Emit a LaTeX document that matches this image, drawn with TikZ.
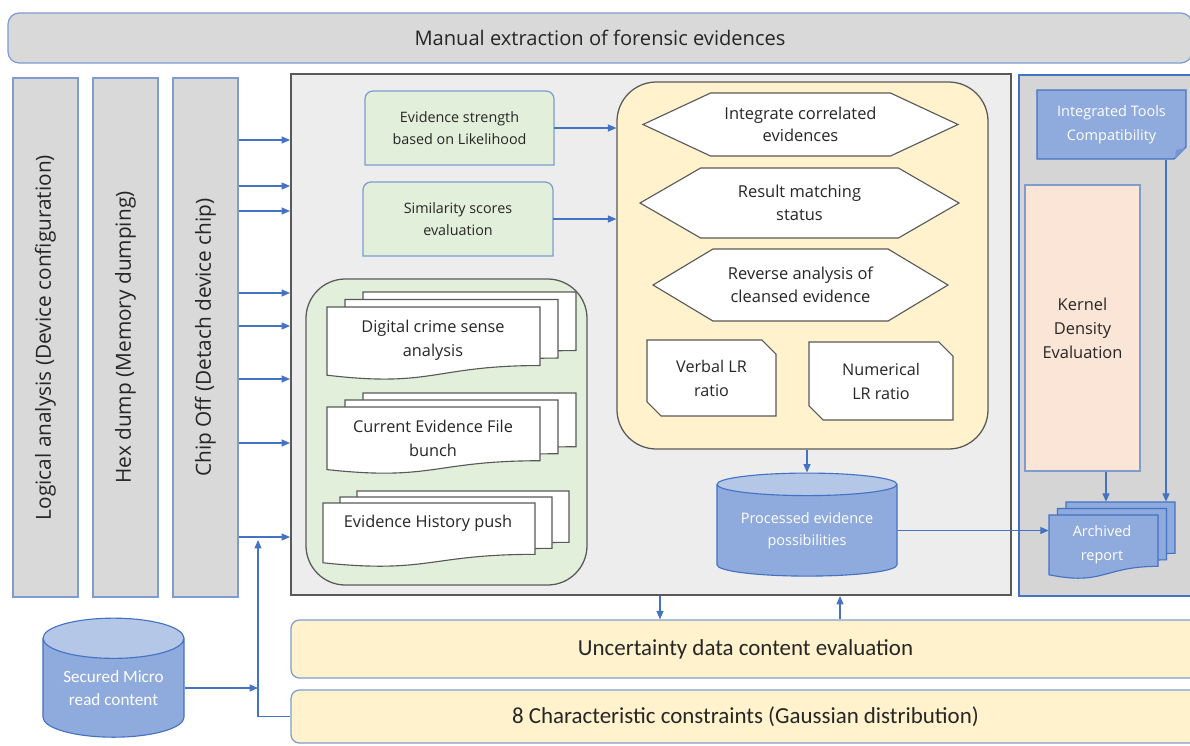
\documentclass[tikz,border=0pt]{standalone}
\usepackage{fontspec}
\setmainfont{Open Sans}
\newfontfamily\frcal{Carlito}
\usepackage{tikz}
\usetikzlibrary{positioning,arrows.meta,calc,shapes.geometric,shapes.symbols,shapes.misc}
\definecolor{frGray}{HTML}{D9D9D9}
\definecolor{frSide}{HTML}{D5D5D5}
\definecolor{frPanel}{HTML}{EDEDED}
\definecolor{frGreen}{HTML}{E2EFDA}
\definecolor{frYellow}{HTML}{FFF2CC}
\definecolor{frPeach}{HTML}{FBE5D6}
\definecolor{frBlue}{HTML}{8FAADC}
\definecolor{frBlueTop}{HTML}{B4C7E7}
\definecolor{frLine}{HTML}{4472C4}
\definecolor{frEdge}{HTML}{7E9CCF}
\definecolor{frDark}{HTML}{595959}
\definecolor{frInk}{HTML}{262626}
\tikzset{
  frsize/.style 2 args={minimum width=#1*0.025cm, minimum height=#2*0.025cm},
  frlane/.style={draw=frEdge, fill=frGray, line width=0.9pt, inner sep=0pt, text=frInk,
                 font=\fontsize{14.8}{18}\selectfont},
  frbar/.style={draw=frEdge, fill=frYellow, rounded corners=6pt, line width=0.9pt, inner sep=0pt,
                text=frInk, font=\frcal\fontsize{16.3}{19}\selectfont},
  frpanel/.style={draw=frDark, fill=frPanel, line width=1.4pt, inner sep=0pt},
  frgroup/.style={draw=frDark, line width=0.9pt, rounded corners=28pt, inner sep=0pt},
  frscore/.style={inner sep=0pt, align=center, text=frInk, font=\fontsize{10.2}{16}\selectfont},
  frscoreline/.style={draw=frEdge, fill=frGreen, line width=0.9pt},
  frhex/.style={signal, signal to=east and west, draw=frDark, fill=white, line width=0.8pt,
                inner sep=0pt, align=center, text=frInk, font=\fontsize{11.7}{16}\selectfont},
  frlr/.style={chamfered rectangle, chamfered rectangle corners={north east,south west},
               chamfered rectangle xsep=0.176cm, chamfered rectangle ysep=0.176cm,
               draw=frDark, fill=white, line width=0.8pt, inner sep=0pt, align=center,
               text=frInk, font=\fontsize{11.5}{17}\selectfont},
  frdb/.style={cylinder, shape border rotate=90, draw=frLine, line width=0.8pt,
               cylinder uses custom fill, cylinder body fill=frBlue, cylinder end fill=frBlueTop,
               inner sep=0pt, align=center, text=white},
  frdoc/.style={draw=frDark, fill=white, line width=0.8pt},
  frdocblue/.style={draw=frLine, fill=frBlue, line width=0.8pt},
  frdoctext/.style={inner sep=0pt, align=center, text=frInk, font=\fontsize{11.6}{17}\selectfont},
  frarr/.style={draw=frLine, line width=0.8pt, -{Triangle[length=6pt,width=5pt]}},
}
% page with a wavy bottom edge
\newcommand{\frDoc}[5]{%
  \draw[#1] (#2,#3) -- ({#2+#4},#3) -- ({#2+#4},{#3+0.802*#5})
    .. controls ({#2+0.5*#4},{#3+0.802*#5}) and ({#2+0.5*#4},{#3+1.1075*#5})
    .. (#2,{#3+0.934*#5}) -- cycle;}
% three pages stacked
\newcommand{\frStack}[7]{%
  \frDoc{#1}{#2+2*#6}{#3-2*#7}{#4}{#5}%
  \frDoc{#1}{#2+#6}{#3-#7}{#4}{#5}%
  \frDoc{#1}{#2}{#3}{#4}{#5}}
% box with rounded top corners only
\newcommand{\frTab}[4]{%
  \draw[frscoreline] (#1,#4) -- (#1,#2+8) arc[start angle=180, end angle=90, radius=0.2cm]
    -- (#3-8,#2) arc[start angle=90, end angle=0, radius=0.2cm] -- (#3,#4) -- cycle;}

\begin{document}
\begin{tikzpicture}[x=0.025cm, y=-0.025cm]
  \useasboundingbox (0,0) rectangle (1190,745);

  \node[frlane, rounded corners=8pt, frsize={1184}{50}, font=\fontsize{14.3}{18}\selectfont] (banner) at (600,38) {Manual extraction of forensic evidences};
  \node[frlane, frsize={65}{519}] (logic) at (45.5,337.5) {\rotatebox{90}{Logical analysis (Device configuration)}};
  \node[frlane, frsize={65}{519}] (hexd) at (125.5,337.5) {\rotatebox{90}{Hex dump (Memory dumping)}};
  \node[frlane, frsize={65}{519}] (chip) at (205.5,337.5) {\rotatebox{90}{Chip Off (Detach device chip)}};

  % main analysis panel
  \node[frpanel, frsize={720}{521}] (core) at (651,334.5) {};
  \frTab{365}{91}{554}{165}
  \node[frscore, frsize={189}{74}] (evstr) at (459.5,128) {Evidence strength\\based on Likelihood};
  \frTab{363}{182}{553}{256}
  \node[frscore, frsize={190}{74}] (simil) at (458,219) {Similarity scores\\evaluation};

  \node[frgroup, fill=frGreen, frsize={281}{306}] (docs) at (446.5,432) {};
  \frStack{frdoc}{327}{307}{213}{73}{18}{7.5}
  \node[frdoctext] (crime) at (433,340) {Digital crime sense\\analysis};
  \frStack{frdoc}{327}{407}{213}{67}{18}{7}
  \node[frdoctext] (bunch) at (433,438) {Current Evidence File\\bunch};
  \frStack{frdoc}{323}{503}{212}{64}{17}{6}
  \node[frdoctext] (history) at (428,523) {Evidence History push};

  \node[frgroup, fill=frYellow, frsize={371}{367}] (lr) at (802.5,265.5) {};
  \node[frhex, signal pointer angle=50, frsize={315}{63}] (integ) at (800.5,124.5) {Integrate correlated\\evidences};
  \node[frhex, signal pointer angle=60, frsize={319}{70}] (match) at (799.5,203) {Result matching\\status};
  \node[frhex, signal pointer angle=62, frsize={295}{72}] (rev) at (800.5,285) {Reverse analysis of\\cleansed evidence};
  \node[frlr, frsize={129}{76}] (verbal) at (711.5,378) {Verbal LR\\ratio};
  \node[frlr, frsize={144}{78}] (numeric) at (881,381) {Numerical\\LR ratio};

  \node[frdb, minimum width=4.5cm, minimum height=2.575cm, aspect=0.17,
        font=\fontsize{10.3}{15.5}\selectfont] (proc) at (807,530.5) {Processed evidence\\possibilities};

  % tools panel
  \node[frlane, draw=frLine, fill=frSide, frsize={181}{521}] (tools) at (1109.5,335.5) {};
  \node[chamfered rectangle, chamfered rectangle corners=south east, chamfered rectangle xsep=0.15cm,
        chamfered rectangle ysep=0.15cm, draw=frLine, fill=frBlue, line width=0.8pt, inner sep=0pt,
        align=center, text=white, font=\fontsize{10.3}{17}\selectfont,
        frsize={149}{69}] (itc) at (1111.5,124.5) {Integrated Tools\\Compatibility};
  \fill[frLine!75] (1175,159) -- (1186,148) -- (1176,150) -- cycle;
  \node[draw=frEdge, fill=frPeach, line width=0.9pt, inner sep=0pt, align=center, text=frInk,
        font=\fontsize{11.7}{17}\selectfont, frsize={115}{286}] (kde) at (1082.5,328) {Kernel\\Density\\Evaluation};
  \frStack{frdocblue}{1049}{515}{109}{64}{8.5}{6.5}
  \node[inner sep=0pt, frsize={126}{73}] (archstack) at (1112,538.5) {};
  \node[frdoctext, text=white, font=\fontsize{10.3}{17}\selectfont] (arch) at (1102,545) {Archived\\report};

  % bottom bars and micro read store
  \node[frbar, frsize={909}{58}] (unc) at (745.5,649) {Uncertainty data content evaluation};
  \node[frbar, frsize={909}{53}] (gauss) at (745.5,716.5) {8 Characteristic constraints (Gaussian distribution)};
  \node[frdb, minimum width=3.525cm, minimum height=2.975cm, aspect=0.4,
        font=\frcal\fontsize{12.2}{16}\selectfont] (smc) at (113.5,688) {Secured Micro\\read content};
  \coordinate (feed) at (258,540);

  \foreach \yy in {140,186,211,293,326,379,443,537}
    \draw[frarr] (chip.east |- 0,\yy) -- (core.west |- 0,\yy);
  \draw[frarr] (evstr.east) -- (evstr.east -| lr.west);
  \draw[frarr] (simil.east) -- (simil.east -| lr.west);
  \draw[frarr] (lr.south -| proc.north) -- (proc.north);
  \draw[frarr] (proc.east) -- (proc.east -| archstack.west);
  \draw[frarr] (core.south -| 660,0) -- (unc.north -| 660,0);
  \draw[frarr] (unc.north -| 840,0) -- (core.south -| 840,0);
  \draw[frarr] (kde.south -| 1106,0) -- (archstack.north -| 1106,0);
  \draw[frarr] (itc.south -| 1166,0) -- (archstack.north -| 1166,0);
  \draw[frarr] (gauss.west) -| (feed);
  \draw[frarr] (smc.east) -- (smc.east -| feed);
\end{tikzpicture}
\end{document}
